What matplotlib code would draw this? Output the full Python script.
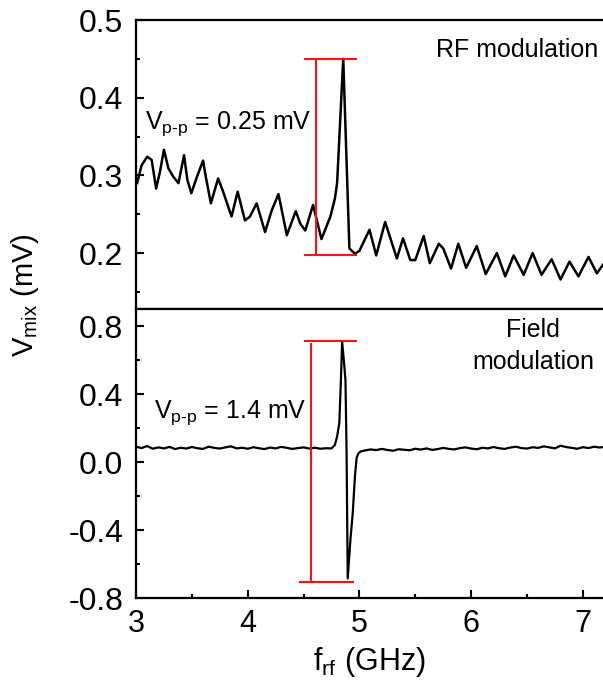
import matplotlib
matplotlib.use("Agg")
import matplotlib.pyplot as plt
from matplotlib.ticker import MultipleLocator

plt.rcParams['font.family'] = ['Liberation Sans', 'DejaVu Sans']
plt.rcParams['mathtext.fontset'] = 'custom'
plt.rcParams['mathtext.rm'] = 'Liberation Sans'
plt.rcParams['mathtext.it'] = 'Liberation Sans'

# ---- data: RF modulation (top) ----
rf_freq = [3.01, 3.05, 3.10, 3.14, 3.18, 3.215, 3.25, 3.29, 3.335, 3.38,
           3.43, 3.46, 3.495, 3.545, 3.60, 3.625, 3.67, 3.735, 3.78, 3.855,
           3.91, 3.975, 4.02, 4.08, 4.155, 4.215, 4.275, 4.305, 4.35, 4.43,
           4.47, 4.515, 4.585, 4.66, 4.74, 4.78, 4.80, 4.855, 4.91, 4.96,
           5.00, 5.09, 5.15, 5.23, 5.335, 5.39, 5.455, 5.50, 5.575, 5.63,
           5.71, 5.75, 5.82, 5.885, 5.955, 6.05, 6.13, 6.23, 6.305, 6.38,
           6.47, 6.55, 6.63, 6.72, 6.80, 6.88, 6.96, 7.05, 7.125, 7.18]
rf_vmix = [0.290, 0.313, 0.324, 0.320, 0.283, 0.305, 0.333, 0.309, 0.298, 0.290,
           0.326, 0.294, 0.277, 0.298, 0.319, 0.298, 0.264, 0.296, 0.279, 0.247,
           0.279, 0.242, 0.247, 0.264, 0.227, 0.255, 0.276, 0.255, 0.223, 0.254,
           0.238, 0.229, 0.262, 0.218, 0.247, 0.270, 0.290, 0.450, 0.206, 0.199,
           0.203, 0.230, 0.197, 0.240, 0.193, 0.219, 0.191, 0.191, 0.222, 0.187,
           0.212, 0.206, 0.180, 0.212, 0.181, 0.209, 0.173, 0.200, 0.170, 0.197,
           0.172, 0.200, 0.172, 0.192, 0.166, 0.189, 0.170, 0.195, 0.174, 0.185]

# ---- data: Field modulation (bottom) ----
field_freq = [3.00, 3.05, 3.10, 3.15, 3.20, 3.25, 3.30, 3.35, 3.40, 3.45,
              3.50, 3.55, 3.60, 3.65, 3.70, 3.75, 3.80, 3.85, 3.90, 3.95,
              4.00, 4.05, 4.10, 4.15, 4.20, 4.25, 4.30, 4.35, 4.40, 4.45,
              4.50, 4.55, 4.60, 4.65, 4.70, 4.75,
              4.78, 4.80, 4.82, 4.835, 4.845, 4.86, 4.875, 4.885, 4.895, 4.92,
              4.94, 4.96, 4.975, 4.99, 5.01,
              5.05, 5.10, 5.15, 5.20, 5.25, 5.30, 5.35, 5.40, 5.45, 5.50,
              5.55, 5.60, 5.65, 5.70, 5.75, 5.80, 5.85, 5.90, 5.95, 6.00,
              6.05, 6.10, 6.15, 6.20, 6.25, 6.30, 6.35, 6.40, 6.45, 6.50,
              6.55, 6.60, 6.65, 6.70, 6.75, 6.80, 6.85, 6.90, 6.95, 7.00,
              7.05, 7.10, 7.15, 7.18]
field_vmix = [0.090, 0.082, 0.094, 0.078, 0.086, 0.080, 0.089, 0.076, 0.084, 0.079,
              0.088, 0.081, 0.077, 0.090, 0.083, 0.079, 0.086, 0.092, 0.080, 0.084,
              0.078, 0.087, 0.081, 0.076, 0.085, 0.080, 0.089, 0.083, 0.077, 0.082,
              0.086, 0.079, 0.084, 0.078, 0.081, 0.080,
              0.100, 0.150, 0.230, 0.500, 0.708, 0.600, 0.480, 0.050, -0.685, -0.450,
              -0.300, -0.080, 0.025, 0.050, 0.062,
              0.068, 0.074, 0.070, 0.077, 0.071, 0.066, 0.075, 0.072, 0.069, 0.078,
              0.073, 0.080, 0.071, 0.076, 0.083, 0.077, 0.074, 0.082, 0.086, 0.079,
              0.075, 0.084, 0.080, 0.088, 0.081, 0.077, 0.085, 0.090, 0.082, 0.079,
              0.087, 0.083, 0.092, 0.086, 0.080, 0.096, 0.088, 0.083, 0.078, 0.087,
              0.082, 0.090, 0.085, 0.088]

# peak-to-peak markers
rf_pp_x = 4.61
rf_pp_low, rf_pp_high = 0.197, 0.450
rf_cap_x = [4.50, 4.98]
field_pp_x = 4.565
field_pp_low, field_pp_high = -0.705, 0.698
field_cap_top = 0.713
field_cap_bot = -0.708
field_cap_top_x = [4.50, 4.98]
field_cap_bot_x = [4.46, 4.95]

x_ticks = [3, 4, 5, 6, 7]
top_yticks = [0.2, 0.3, 0.4, 0.5]
bot_yticks = [-0.8, -0.4, 0.0, 0.4, 0.8]

W, H = 603, 692
fig = plt.figure(figsize=(W / 100, H / 100), dpi=100)
left = 136 / W
right = 1.0
ax1 = fig.add_axes([left, 1 - 309 / H, right - left, (309 - 20) / H])
ax2 = fig.add_axes([left, 1 - 598 / H, right - left, (598 - 309) / H])

red = '#ff1010'
for ax in (ax1, ax2):
    ax.set_xlim(3, 7.18)
    ax.xaxis.set_major_locator(MultipleLocator(1))
    ax.xaxis.set_minor_locator(MultipleLocator(0.5))
    ax.tick_params(which='both', direction='in', top=False, right=False, width=1.5)
    ax.tick_params(which='major', length=6, labelsize=23, pad=9)
    ax.tick_params(which='minor', length=3)
    ax.spines['right'].set_visible(False)
    for s in ('left', 'bottom', 'top'):
        ax.spines[s].set_linewidth(1.6)

ax1.plot(rf_freq, rf_vmix, color='black', lw=1.8, solid_joinstyle='round')
ax1.set_ylim(0.128, 0.5)
ax1.set_yticks(top_yticks)
ax1.yaxis.set_minor_locator(MultipleLocator(0.05))
ax1.tick_params(axis='x', which='both', bottom=False, labelbottom=False)
ax1.vlines(rf_pp_x, rf_pp_low, rf_pp_high, color=red, lw=1.5)
ax1.hlines([rf_pp_high, rf_pp_low], rf_cap_x[0], rf_cap_x[1], color=red, lw=1.5)
ax1.text(7.137, 0.452, 'RF modulation', ha='right', va='baseline', fontsize=18)
ax1.text(3.08, 0.3597, r'V$_{\mathregular{p\text{-}p}}$ = 0.25 mV',
         ha='left', va='baseline', fontsize=18)

ax2.plot(field_freq, field_vmix, color='black', lw=1.6, solid_joinstyle='round')
ax2.set_ylim(-0.8, 0.9)
ax2.set_yticks(bot_yticks)
ax2.set_yticklabels(['-0.8', '-0.4', '0.0', '0.4', '0.8'])
ax2.yaxis.set_minor_locator(MultipleLocator(0.2))
ax2.set_xticks(x_ticks)
ax2.tick_params(axis='x', labelsize=22, pad=8)
ax2.vlines(field_pp_x, field_pp_low, field_pp_high, color=red, lw=1.5)
ax2.hlines(field_cap_top, field_cap_top_x[0], field_cap_top_x[1], color=red, lw=1.5)
ax2.hlines(field_cap_bot, field_cap_bot_x[0], field_cap_bot_x[1], color=red, lw=1.5)
ax2.text(6.555, 0.735, 'Field', ha='center', va='baseline', fontsize=18)
ax2.text(6.555, 0.547, 'modulation', ha='center', va='baseline', fontsize=18)
ax2.text(3.16, 0.259, r'V$_{\mathregular{p\text{-}p}}$ = 1.4 mV',
         ha='left', va='baseline', fontsize=18)
ax2.set_xlabel(r'f$_{\mathregular{rf}}$ (GHz)', fontsize=22, labelpad=4)

fig.text(25 / W, 1 - 295 / H, r'V$_{\mathregular{mix}}$ (mV)', rotation=90,
         ha='center', va='center', fontsize=21)

fig.savefig('out.png', dpi=100)
